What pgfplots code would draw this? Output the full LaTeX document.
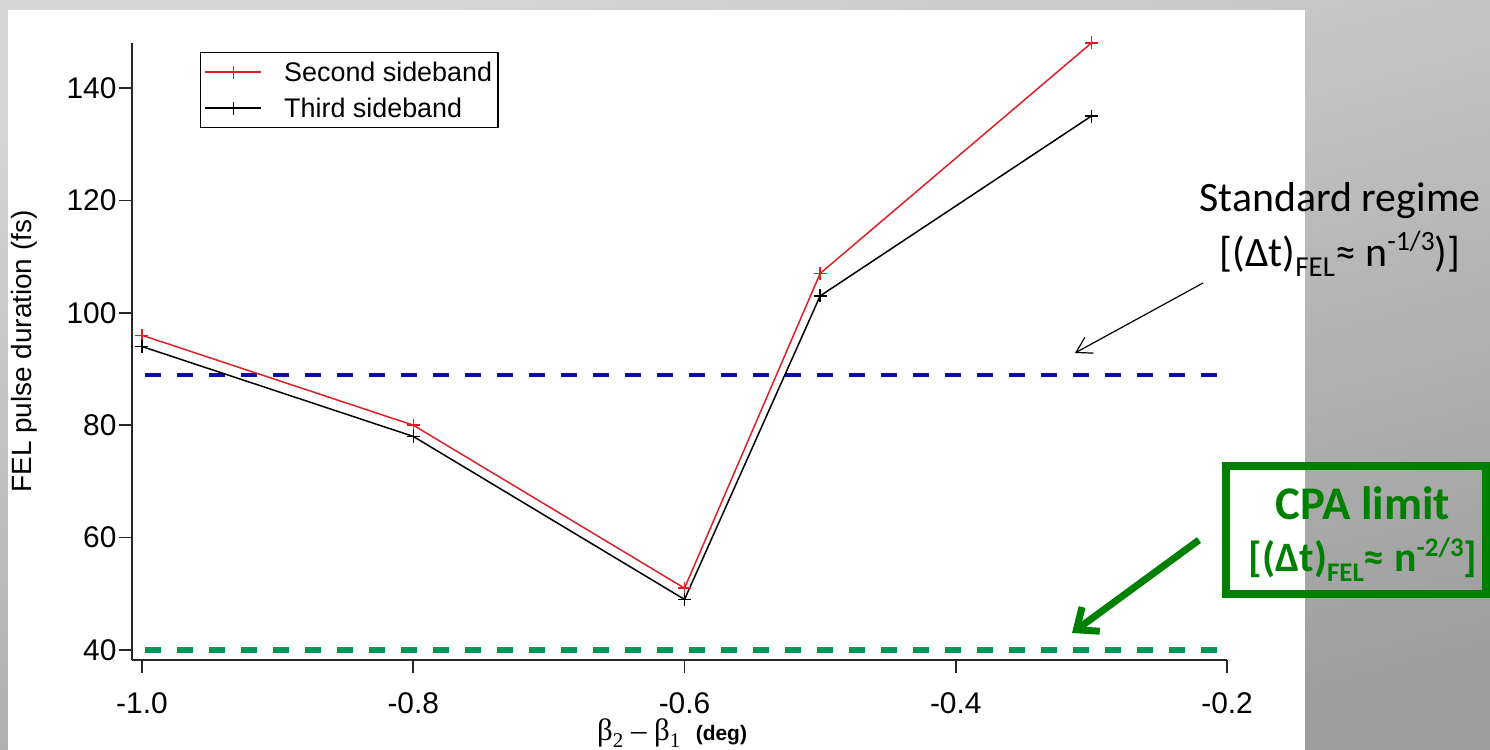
\documentclass[border=0pt]{standalone}
\usepackage{pgfplots}
\pgfplotsset{compat=1.18}
\usetikzlibrary{arrows.meta}
\usepackage{fontspec}
\setmainfont{Liberation Sans}
\newfontfamily\calibri{Carlito}
\newfontfamily\serifgreek{Liberation Serif}

\definecolor{bgtop}{RGB}{214,214,214}
\definecolor{bgbot}{RGB}{158,158,158}
\definecolor{sidered}{RGB}{222,32,38}
\definecolor{stdblue}{RGB}{16,16,150}
\definecolor{cpadash}{RGB}{0,150,85}
\definecolor{cpagreen}{RGB}{0,128,0}

% small raised / lowered text for the annotations
\newcommand{\lo}[2]{\raisebox{#1}{\fontsize{#2}{#2}\selectfont FEL}}
\newcommand{\hi}[3]{\raisebox{#1}{\fontsize{#2}{#2}\selectfont #3}}

\begin{document}
\begin{tikzpicture}
\useasboundingbox (0,0) rectangle (1490bp,750bp);
\shade[top color=bgtop, bottom color=bgbot, shading angle=15] (0,0) rectangle (1490bp,750bp);
\fill[white] (8bp,0) rectangle (1305bp,740bp);

\begin{axis}[
  at={(132bp,90bp)}, anchor=south west,
  scale only axis, width=1095bp, height=617bp,
  xmin=-1.00737, xmax=-0.2, ymin=38.22, ymax=148.0,
  clip=false,
  axis x line*=bottom, axis y line*=left,
  axis line style={-, line width=1.6bp, black!85},
  tick align=outside, major tick length=13bp,
  tick style={line width=1.6bp, black!85},
  xtick={-1.0,-0.8,-0.6,-0.4,-0.2},
  xticklabels={-1.0,-0.8,-0.6,-0.4,-0.2},
  ytick={40,60,80,100,120,140},
  yticklabels={40,60,80,100,120,140},
  tick label style={font=\fontsize{30}{32}\selectfont},
  yticklabel style={xshift=1bp},
  xticklabel style={yshift=-16bp},
  ylabel={FEL pulse duration (fs)},
  every axis y label/.style={at={(axis description cs:-0.0986,0.5)}, rotate=90, anchor=center, font=\fontsize{28}{30}\selectfont},
  xlabel={{\serifgreek β\hi{-7bp}{21}{2} – β\hi{-7bp}{21}{1}}\enspace{\bfseries\fontsize{21}{22}\selectfont(deg)}},
  every axis x label/.style={at={(axis description cs:0.4932,-0.1310)}, anchor=base, font=\fontsize{31}{32}\selectfont},
  legend style={at={(axis description cs:0.0621,0.9854)}, anchor=north west,
    draw=black, line width=1.4bp, font=\fontsize{27}{30}\selectfont,
    inner xsep=4bp, inner ysep=7bp, row sep=11bp, nodes={inner sep=2bp},
    /tikz/every odd column/.append style={column sep=20bp}},
  legend cell align=left,
  legend image code/.code={\draw[mark repeat=2,mark phase=2,#1] plot coordinates {(0bp,0bp) (28bp,0bp) (56bp,0bp)};},
]
% reference levels
\addplot[stdblue, line width=4bp, dash pattern=on 16bp off 16bp, forget plot]
  coordinates {(-0.998,88.9) (-0.2,88.9)};
\addplot[cpadash, line width=6bp, dash pattern=on 16bp off 16bp, forget plot]
  coordinates {(-0.998,40) (-0.2,40)};
% measured pulse durations
\addplot[sidered, line width=1.5bp, mark=+, mark size=6.5bp]
  coordinates {(-1.0,96) (-0.8,80) (-0.6,51) (-0.5,107) (-0.3,148)};
\addlegendentry{Second sideband}
\addplot[black, line width=1.5bp, mark=+, mark size=6.5bp]
  coordinates {(-1.0,94) (-0.8,78) (-0.6,49) (-0.5,103) (-0.3,135)};
\addlegendentry{Third sideband}
\end{axis}

% standard regime annotation
\node[anchor=base, font=\calibri\fontsize{42}{50}\selectfont] at (1340bp,538bp) {Standard regime};
\node[anchor=base, font=\calibri\fontsize{42}{50}\selectfont] at (1340bp,483bp)
  {[(Δt)\lo{-10bp}{29}≈ n\hi{16bp}{28}{-1/3})]};
\draw[black, line width=1.2bp, -{Straight Barb[length=15bp,width=18bp]}] (1203bp,467bp) -- (1075bp,397bp);

% CPA limit annotation
\draw[cpagreen, line width=8bp] (1226bp,156bp) rectangle (1486bp,284bp);
\node[anchor=base, text=cpagreen, font=\calibri\bfseries\fontsize{47}{50}\selectfont] at (1363bp,230bp) {CPA limit};
\node[anchor=base, text=cpagreen, font=\calibri\bfseries\fontsize{42}{46}\selectfont] at (1363bp,178bp)
  {[(Δt)\lo{-10bp}{27}≈ n\hi{15bp}{27}{-2/3}]};
\draw[cpagreen, line width=7bp, -{Straight Barb[length=18bp,width=30bp]}] (1199bp,210bp) -- (1072bp,117bp);
\end{tikzpicture}
\end{document}
